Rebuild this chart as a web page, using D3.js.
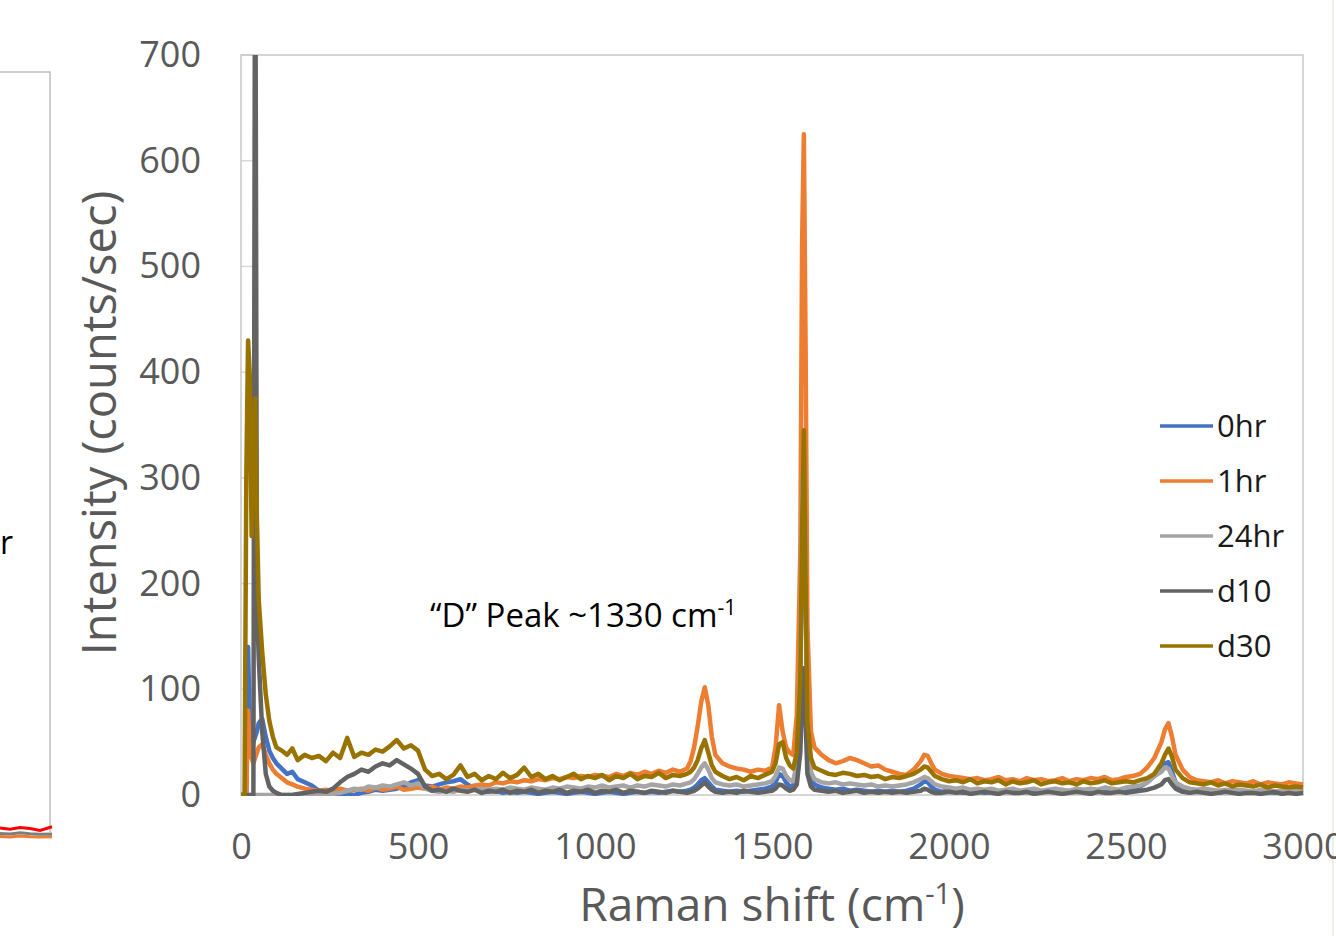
<!DOCTYPE html>
<html>
<head>
<meta charset="utf-8">
<script src="https://cdn.jsdelivr.net/npm/d3@7"></script>
<style>
  body { margin: 0; background: #fff; }
  svg { display: block; font-family: "Open Sans", sans-serif; }
</style>
</head>
<body>
<svg id="chart" width="1336" height="936"></svg>
<script>
// raman shift grid (cm-1), shared by all series
var shift = [
  0,5,10,15,20,25,30,35,40,45,50,60,70,80,90,100,115,130,145,160,180,200,
  220,240,260,280,300,320,340,360,380,400,420,440,460,480,500,520,540,560,580,600,
  620,640,660,680,700,720,740,760,780,800,820,840,860,880,900,920,940,960,980,1000,
  1020,1040,1060,1080,1100,1120,1140,1160,1180,1200,1220,1240,1260,
  1270,1280,1290,1300,1310,1320,1330,1340,
  1360,1380,1400,1420,1440,1460,1480,1500,
  1510,1520,1530,1540,1550,1560,1570,1580,
  1585,1590,1595,1600,1610,1620,
  1640,1660,1680,1700,1720,1740,1760,1780,1800,1820,1840,1860,1880,1900,
  1920,1930,1940,1950,1960,
  1980,2000,2020,2040,2060,2080,2100,2120,2140,2160,2180,2200,2220,2240,2260,2280,
  2300,2320,2340,2360,2380,2400,2420,2440,2460,2480,2500,2520,2540,2560,2580,
  2600,2610,2620,2630,2640,
  2660,2680,2700,2720,2740,2760,2780,2800,2820,2840,2860,2880,2900,2920,2940,2960,2980,3000
];

var hr0 = [
  0,0,0,0,140,60,55,50,55,60,68,72,55,42,35,30,25,20,22,15,12,9,
  4,2,0,0,1,0,2,3,5,4,5,6,8,12,14,9,8,10,12,13,
  15,10,6,4,3,4,2,3,2,3,2,1,2,3,2,1,2,3,2,1,
  2,3,2,1,2,3,2,3,2,3,4,3,4,
  5,7,10,14,16,12,8,5,
  4,3,4,3,4,5,6,8,
  12,20,18,12,8,9,25,110,
  260,300,180,50,15,10,
  7,6,5,6,4,5,4,3,4,3,4,3,4,6,
  10,13,12,8,5,
  3,4,3,2,3,4,2,3,2,3,4,2,3,2,3,4,
  3,2,3,4,3,2,3,4,3,4,5,6,8,12,18,
  24,30,31,22,12,
  5,4,3,4,3,2,3,4,3,2,3,2,3,2,3,2,3,2
];

var hr1 = [
  0,0,0,0,80,40,35,30,35,40,45,48,38,30,24,20,16,12,10,8,6,5,
  4,5,3,6,4,5,6,4,7,5,6,8,5,6,7,6,8,5,7,6,
  8,7,9,10,9,12,11,13,12,14,13,15,14,16,15,17,16,18,17,19,
  18,17,20,18,21,19,22,20,23,21,24,22,25,
  32,45,65,88,102,85,55,38,
  30,27,25,24,22,24,23,26,
  45,85,60,45,40,38,75,230,
  520,625,420,160,60,45,
  38,33,30,32,35,33,30,27,28,24,22,20,19,24,
  32,38,37,30,24,
  20,18,17,16,15,16,14,15,17,14,15,13,16,14,15,13,
  14,16,13,15,14,16,15,17,14,15,17,18,20,26,35,
  50,62,68,55,38,
  24,17,14,13,12,14,11,13,12,11,13,10,12,11,10,12,11,10
];

var hr24 = [
  0,0,0,0,0,0,0,0,0,0,0,0,0,0,0,0,0,0,0,0,0,0,
  0,0,1,2,4,6,5,8,7,9,8,10,12,9,11,6,4,3,4,3,
  5,4,5,6,5,6,5,7,6,5,7,6,5,7,6,8,7,6,8,7,
  9,7,8,9,7,9,8,10,9,8,10,9,11,
  12,15,20,26,30,24,16,12,
  10,9,10,8,9,10,11,13,
  18,26,25,18,14,13,30,120,
  280,330,200,60,22,15,
  12,11,12,10,11,10,9,10,8,9,8,9,10,12,
  15,17,16,13,10,
  8,7,6,7,5,6,5,6,4,5,6,4,5,6,4,5,
  6,5,4,6,5,6,5,7,6,5,7,8,9,12,18,
  22,26,25,18,12,
  8,6,5,6,5,4,5,4,5,4,3,5,4,3,4,3,4,3
];

var d10 = [
  0,0,0,0,0,0,0,0,900,185,130,60,20,8,4,2,0,0,0,1,2,3,
  4,3,6,12,17,20,24,22,27,30,28,33,29,25,20,8,4,5,3,6,
  4,3,5,2,4,3,5,2,4,3,5,2,4,3,5,2,4,3,5,2,
  4,3,5,2,4,3,2,4,3,2,4,3,2,
  3,4,6,9,12,8,5,3,
  2,3,2,4,3,2,3,4,
  6,10,9,6,4,5,10,40,
  90,120,70,20,8,5,
  4,3,4,2,3,4,2,3,2,3,2,3,2,3,
  4,6,5,3,2,
  2,3,2,3,1,2,3,2,1,3,2,2,3,1,2,3,
  2,1,2,3,2,1,3,2,2,3,2,3,4,5,7,
  10,14,15,10,6,
  3,2,3,2,1,2,3,2,1,2,2,1,2,3,1,2,1,2
];

var d30 = [
  0,0,0,300,430,395,245,330,375,260,185,135,95,70,55,45,42,38,44,33,38,35,
  37,32,40,35,54,36,40,38,43,41,46,52,44,47,42,24,18,20,15,19,
  28,17,20,14,18,15,21,16,19,26,17,20,15,18,14,17,20,15,18,16,
  19,14,18,16,20,15,18,17,21,16,19,18,20,
  22,26,33,44,52,40,28,22,
  18,15,17,14,18,16,19,22,
  30,48,50,35,28,25,40,110,
  250,345,200,70,35,26,
  23,20,19,21,20,18,19,17,18,15,17,16,18,20,
  24,27,26,22,18,
  15,13,14,12,15,11,13,12,14,10,13,11,12,14,10,12,
  13,11,12,10,13,11,12,14,11,12,13,12,14,16,20,
  30,38,44,36,24,
  16,12,11,10,12,9,11,8,10,9,8,10,7,9,8,7,8,7
];

var seriesNames = ["0hr", "1hr", "24hr", "d10", "d30"];
var seriesColors = ["#4472C4", "#ED7D31", "#A5A5A5", "#636363", "#997300"];
var seriesValues = [hr0, hr1, hr24, d10, d30];

var xTicks = [0, 500, 1000, 1500, 2000, 2500, 3000];
var yTicks = [0, 100, 200, 300, 400, 500, 600, 700];

// bit of the neighbouring chart that is cut off at the left edge
var leftX = [0, 10, 20, 30, 40, 52];
var leftRed = [3.0, 2.6, 3.2, 2.8, 2.2, 3.4];
var leftGray = [1.2, 1.0, 1.4, 1.1, 0.9, 1.0];
var leftOrange = [0.2, 0.0, 0.3, 0.1, 0.0, 0.1];

var svg = d3.select("#chart");
svg.append("rect").attr("width", 1336).attr("height", 936).attr("fill", "#fff");

var x = d3.scaleLinear().domain([0, 3000]).range([241, 1303]);
var y = d3.scaleLinear().domain([0, 700]).range([795, 55]);

// left partial chart
var lx = d3.scaleLinear().domain([0, 52]).range([0, 52]);
var ly = d3.scaleLinear().domain([0, 10]).range([837, 807]);
svg.append("path").attr("d", "M0,72H50V832").attr("fill", "none").attr("stroke", "#bfbfbf").attr("stroke-width", 1.5);
[[leftOrange, "#ED7D31"], [leftGray, "#7f7f7f"], [leftRed, "#ff0000"]].forEach(function(s) {
  svg.append("path")
    .datum(s[0])
    .attr("fill", "none").attr("stroke", s[1]).attr("stroke-width", 3)
    .attr("d", d3.line().x(function(d, i) { return lx(leftX[i]); }).y(function(d) { return ly(d); }));
});
svg.append("text").attr("x", 0).attr("y", 554).attr("font-size", 32).attr("fill", "#000").text("r");

// short gridline stubs left of the d10 spike
svg.append("g").selectAll("line").data(yTicks.slice(1)).enter().append("line")
  .attr("x1", x(0)).attr("x2", x(38))
  .attr("y1", function(d) { return y(d); }).attr("y2", function(d) { return y(d); })
  .attr("stroke", "#d9d9d9").attr("stroke-width", 1.5);

// plot frame
svg.append("rect").attr("x", 241).attr("y", 55).attr("width", 1062).attr("height", 740)
  .attr("fill", "none").attr("stroke", "#c8c8c8").attr("stroke-width", 1.5);

svg.append("line").attr("x1", 1333).attr("x2", 1333).attr("y1", 0).attr("y2", 936)
  .attr("stroke", "#efefe6").attr("stroke-width", 2);

svg.append("clipPath").attr("id", "plotclip").append("rect")
  .attr("x", 241).attr("y", 55).attr("width", 1063).attr("height", 741);

var line = d3.line()
  .x(function(d, i) { return x(shift[i]); })
  .y(function(d) { return y(d); });

svg.append("g").attr("clip-path", "url(#plotclip)")
  .selectAll("path").data(seriesValues).enter().append("path")
  .attr("fill", "none")
  .attr("stroke", function(d, i) { return seriesColors[i]; })
  .attr("stroke-width", 4.5)
  .attr("stroke-linejoin", "round")
  .attr("d", line);

// axes
var yAxis = svg.append("g").attr("transform", "translate(241,0)")
  .call(d3.axisLeft(y).tickValues(yTicks).tickSize(0).tickPadding(40));
var xAxis = svg.append("g").attr("transform", "translate(0,795)")
  .call(d3.axisBottom(x).tickValues(xTicks).tickFormat(d3.format("d")).tickSize(0).tickPadding(38));
[yAxis, xAxis].forEach(function(a) {
  a.select(".domain").remove();
  a.selectAll("text").attr("font-family", "Open Sans").attr("font-size", 36).attr("fill", "#595959");
});

// axis titles
svg.append("text")
  .attr("transform", "translate(116,423) rotate(-90)")
  .attr("text-anchor", "middle").attr("font-size", 47).attr("fill", "#595959")
  .text("Intensity (counts/sec)");

var xt = svg.append("text").attr("x", 772).attr("y", 921)
  .attr("text-anchor", "middle").attr("font-size", 46).attr("fill", "#595959");
xt.append("tspan").text("Raman shift (cm");
xt.append("tspan").attr("font-size", 29).attr("dy", -17).text("-1");
xt.append("tspan").attr("dy", 17).text(")");

// annotation
var ann = svg.append("text").attr("x", 430).attr("y", 627).attr("font-size", 33).attr("fill", "#000");
ann.append("tspan").text("\u201CD\u201D Peak ~1330 cm");
ann.append("tspan").attr("font-size", 21).attr("dy", -12).text("-1");

// legend
var legend = svg.append("g").selectAll("g").data(seriesNames).enter().append("g")
  .attr("transform", function(d, i) { return "translate(1160," + (426 + i * 55) + ")"; });
legend.append("line").attr("x1", 0).attr("x2", 53)
  .attr("stroke", function(d, i) { return seriesColors[i]; }).attr("stroke-width", 3.5);
legend.append("text").attr("x", 57).attr("dy", "0.36em")
  .attr("font-size", 31).attr("fill", "#1a1a1a").text(function(d) { return d; });
</script>
</body>
</html>
